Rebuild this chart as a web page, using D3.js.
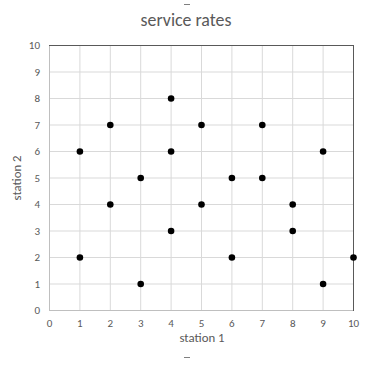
<!DOCTYPE html>
<html><head><meta charset="utf-8">
<script src="https://cdn.jsdelivr.net/npm/d3@7"></script>
<style>body{margin:0;background:#fff}svg{display:block}text{font-family:Calibri,Carlito,Lato,"Open Sans",sans-serif}</style>
</head><body><svg id="c" width="369" height="366"></svg>
<script>
const xValues = [1,1,2,2,3,3,4,4,4,5,5,6,6,7,7,8,8,9,9,10];
const yValues = [6,2,7,4,5,1,8,6,3,7,4,5,2,7,5,4,3,6,1,2];
const ticks = [0,1,2,3,4,5,6,7,8,9,10];
const title = "service rates", xLabel = "station 1", yLabel = "station 2";

const svg = d3.select("#c");
const L=49, R=353, T=45, B=310;
const x = d3.scaleLinear().domain([0,10]).range([L,R]);
const y = d3.scaleLinear().domain([0,10]).range([B,T]);
const grey="#595959";

function fit(sel, w){
  const n = sel.node(); const fs = parseFloat(n.style.fontSize);
  const cur = n.getComputedTextLength();
  if(cur>0) sel.style("font-size",(fs*w/cur).toFixed(2)+"px");
}

// gridlines
svg.append("g").selectAll("line").data(ticks).join("line")
  .attr("x1",d=>x(d)+0.5).attr("x2",d=>x(d)+0.5).attr("y1",T).attr("y2",B)
  .attr("stroke","#d9d9d9").attr("stroke-width",1);
svg.append("g").selectAll("line").data(ticks).join("line")
  .attr("y1",d=>y(d)+0.5).attr("y2",d=>y(d)+0.5).attr("x1",L).attr("x2",R)
  .attr("stroke","#d9d9d9").attr("stroke-width",1);
// axes lines
svg.append("line").attr("x1",L+0.5).attr("x2",L+0.5).attr("y1",T).attr("y2",B+0.5).attr("stroke","#bfbfbf");
svg.append("line").attr("x1",L).attr("x2",R).attr("y1",B+0.5).attr("y2",B+0.5).attr("stroke","#bfbfbf");
svg.append("line").attr("x1",L).attr("x2",R+1).attr("y1",T+0.5).attr("y2",T+0.5).attr("stroke","#595959");
svg.append("line").attr("x1",R+0.5).attr("x2",R+0.5).attr("y1",T).attr("y2",B+1).attr("stroke","#595959");

// tick labels
const xa = d3.axisBottom(x).tickValues(ticks).tickSize(0).tickPadding(9);
const gx = svg.append("g").attr("transform",`translate(0,${B})`).call(xa);
gx.select(".domain").remove();
gx.selectAll("text").attr("fill",grey).style("font-size","11px").style("font-family",null);
const ya = d3.axisLeft(y).tickValues(ticks).tickSize(0).tickPadding(9);
const gy = svg.append("g").attr("transform",`translate(${L},0)`).call(ya);
gy.select(".domain").remove();
gy.selectAll("text").attr("fill",grey).style("font-size","11px").style("font-family",null);
gx.attr("font-family",null); gy.attr("font-family",null);

// points
svg.append("g").selectAll("circle").data(xValues.map((d,i)=>[d,yValues[i]])).join("circle")
  .attr("cx",d=>x(d[0])+0.5).attr("cy",d=>y(d[1])+0.5).attr("r",3.3).attr("fill","#000");

// titles
const tt = svg.append("text").attr("x",186).attr("y",26).attr("text-anchor","middle").attr("fill",grey)
  .style("font-size","15px").text(title);
fit(tt, 91);
const xl = svg.append("text").attr("x",202).attr("y",342).attr("text-anchor","middle").attr("fill",grey)
  .style("font-size","11px").text(xLabel);
fit(xl, 45);
const yl = svg.append("text").attr("transform","translate(21,178) rotate(-90)").attr("text-anchor","middle").attr("fill",grey)
  .style("font-size","11px").text(yLabel);
fit(yl, 45);
// small dashes
svg.append("line").attr("x1",184).attr("x2",190).attr("y1",4.5).attr("y2",4.5).attr("stroke","#7f7f7f");
svg.append("line").attr("x1",184).attr("x2",190).attr("y1",357.5).attr("y2",357.5).attr("stroke","#7f7f7f");
</script></body></html>
